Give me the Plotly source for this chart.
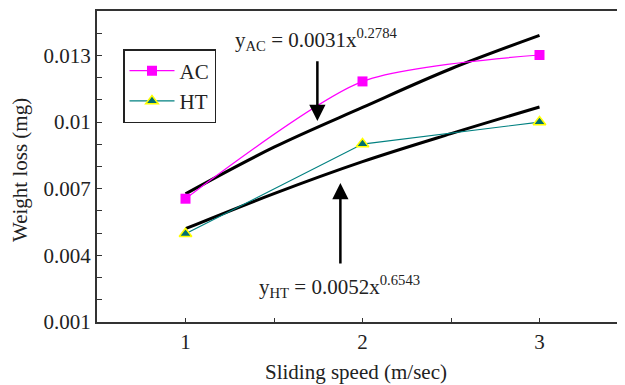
import plotly.graph_objects as go

speed = [1, 2, 3]
ac_loss = [0.00655, 0.01183, 0.01302]
ht_loss = [0.00497, 0.00901, 0.0100]

fit_x = [1, 1.5, 2, 2.5, 3]
ac_fit = [0.00677, 0.00887, 0.01066, 0.0124, 0.0139]
ht_fit = [0.0052, 0.00678, 0.00822, 0.00948, 0.01068]

y_ticks = [0.001, 0.004, 0.007, 0.01, 0.013]
y_tick_text = ["0.001", "0.004", "0.007", "0.01", "0.013"]
x_ticks = [1, 2, 3]

FONT = "Liberation Serif"
PW = 536.0  # plot width in px
PH = 311.0  # plot height in px

fig = go.Figure()
fig.add_trace(go.Scatter(x=fit_x, y=ac_fit, mode="lines", line=dict(color="black", width=3, shape="spline"),
                         showlegend=False, hoverinfo="skip"))
fig.add_trace(go.Scatter(x=fit_x, y=ht_fit, mode="lines", line=dict(color="black", width=3, shape="spline"),
                         showlegend=False, hoverinfo="skip"))
fig.add_trace(go.Scatter(x=speed, y=ac_loss, mode="lines+markers", name="AC",
                         line=dict(color="#FF00FF", width=1.2, shape="spline", smoothing=0.7),
                         marker=dict(symbol="square", size=10, color="#FF00FF")))
fig.add_trace(go.Scatter(x=speed, y=ht_loss, mode="lines+markers", name="HT",
                         line=dict(color="#008080", width=1.2),
                         marker=dict(symbol="triangle-up", size=11, color="#007070",
                                     line=dict(color="#FFFF00", width=1.5))))

fig.update_layout(
    width=625, height=385,
    margin=dict(l=89, r=0, t=3, b=71, autoexpand=False),
    paper_bgcolor="white", plot_bgcolor="white",
    font=dict(family=FONT, size=21, color="#222"),
    legend=dict(x=(123 - 97) / PW, y=(322 - 49) / PH, xanchor="left", yanchor="top",
                bordercolor="#222", borderwidth=1.5, bgcolor="white",
                font=dict(family=FONT, size=21), itemwidth=45, tracegroupgap=12),
    xaxis=dict(range=[0.5, 0.5 + PW / 177], tickvals=x_ticks, ticks="inside", ticklen=4,
               showgrid=False, zeroline=False, showline=True, linecolor="#333",
               linewidth=2, mirror=True, tickcolor="#333", automargin=False,
               minor=dict(ticks="inside", dtick=0.5, tick0=0.5, ticklen=4, tickcolor="#333"),
               tickfont=dict(family=FONT, size=21)),
    yaxis=dict(range=[0.001, 0.015], tickvals=y_ticks, ticktext=y_tick_text,
               ticks="inside", ticklen=5, showgrid=False, zeroline=False, automargin=False,
               showline=True, linecolor="#333", linewidth=2, tickcolor="#333",
               minor=dict(ticks="inside", dtick=0.001, tick0=0.001, ticklen=5, tickcolor="#333"),
               tickfont=dict(family=FONT, size=21)),
    showlegend=True,
)

fig.add_annotation(text="Sliding speed (m/sec)", xref="paper", yref="paper",
                   x=(356 - 97) / PW, y=-50 / PH, xanchor="center", yanchor="middle",
                   showarrow=False, font=dict(family=FONT, size=21))
fig.add_annotation(text="Weight loss (mg)", xref="paper", yref="paper",
                   x=(20 - 97) / PW, y=(322 - 170) / PH, xanchor="center", yanchor="middle",
                   textangle=-90, showarrow=False, font=dict(family=FONT, size=21))

fig.add_annotation(text="y<sub>AC</sub> = 0.0031x<sup>0.2784</sup>", x=1.74, y=0.01445,
                   xanchor="center", yanchor="top", showarrow=False, font=dict(family=FONT, size=21))
fig.add_annotation(text="y<sub>HT</sub> = 0.0052x<sup>0.6543</sup>", x=1.87, y=0.00185,
                   xanchor="center", yanchor="bottom", showarrow=False, font=dict(family=FONT, size=21))

fig.add_annotation(x=1.745, y=0.01005, ax=1.745, ay=0.0128, xref="x", yref="y",
                   axref="x", ayref="y", showarrow=True, arrowhead=2, arrowsize=1.3,
                   arrowwidth=2.5, arrowcolor="black", text="")
fig.add_annotation(x=1.875, y=0.00726, ax=1.875, ay=0.00357, xref="x", yref="y",
                   axref="x", ayref="y", showarrow=True, arrowhead=2, arrowsize=1.3,
                   arrowwidth=2.5, arrowcolor="black", text="")

fig.write_html("out.html")
